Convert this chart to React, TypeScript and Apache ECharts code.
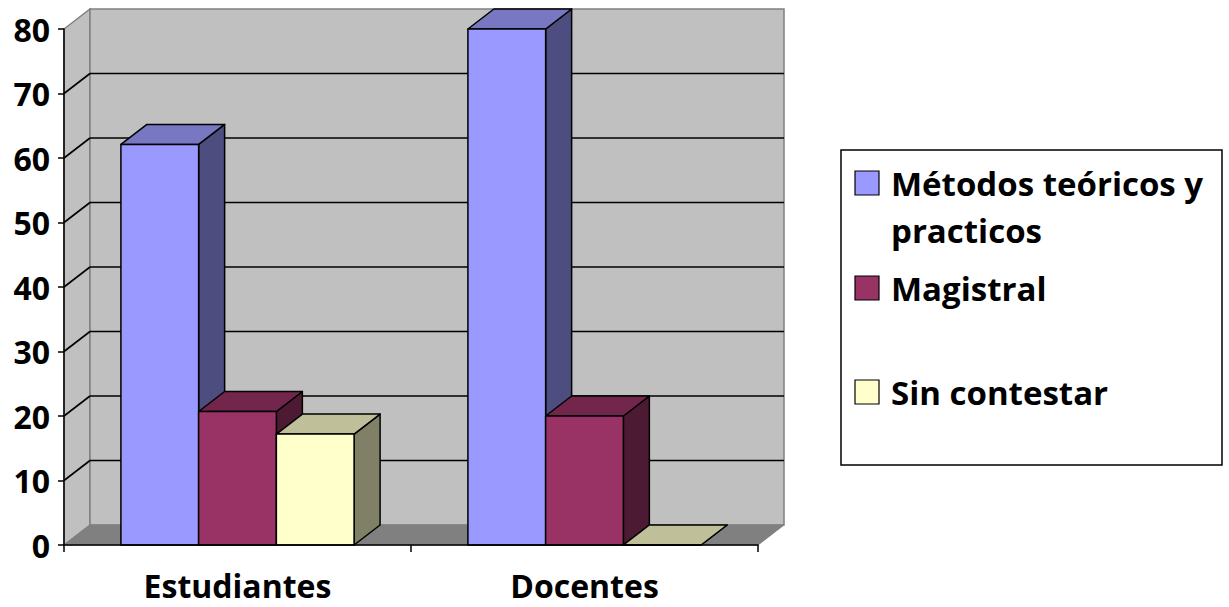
import React, { useEffect, useRef } from 'react';
import * as echarts from 'echarts';

const categories = ['Estudiantes', 'Docentes'];
const seriesNames = ['Métodos teóricos y practicos', 'Magistral', 'Sin contestar'];
const legendLabels = ['Métodos teóricos y\npracticos', 'Magistral', 'Sin contestar'];
const metodos = [62.1, 80];
const magistral = [20.7, 20];
const sinContestar = [17.2, 0];
const seriesValues = [metodos, magistral, sinContestar];
const gridValues = [10, 20, 30, 40, 50, 60, 70];

const colors = [
  { front: '#9999FF', top: '#7777C2', side: '#4D4D80' },
  { front: '#993366', top: '#73264C', side: '#4D1A33' },
  { front: '#FFFFCC', top: '#BFBF99', side: '#808066' },
];

const DX = 26;
const DY = -20;
const FONT = '"Open Sans", Lato, sans-serif';

export default function App() {
  const ref = useRef<HTMLDivElement>(null);
  useEffect(() => {
    if (!ref.current) return;
    const chart = echarts.init(ref.current, undefined, { renderer: 'svg' });

    const wallSeries: any = {
      type: 'custom',
      z: 1,
      silent: true,
      data: [[0, 0]],
      renderItem: (params: any, api: any) => {
        const cs = params.coordSys;
        const x0 = cs.x, x1 = cs.x + cs.width, yt = cs.y, yb = cs.y + cs.height;
        const children: any[] = [];
        children.push({
          type: 'polygon',
          shape: { points: [[x0, yb], [x0, yt], [x0 + DX, yt + DY], [x0 + DX, yb + DY]] },
          style: { fill: '#C0C0C0', stroke: '#808080', lineWidth: 1.5 },
        });
        children.push({
          type: 'polygon',
          shape: { points: [[x0 + DX, yt + DY], [x1 + DX, yt + DY], [x1 + DX, yb + DY], [x0 + DX, yb + DY]] },
          style: { fill: '#C0C0C0', stroke: '#808080', lineWidth: 1.5 },
        });
        children.push({
          type: 'polygon',
          shape: { points: [[x0, yb], [x1, yb], [x1 + DX, yb + DY], [x0 + DX, yb + DY]] },
          style: { fill: '#808080', stroke: '#808080', lineWidth: 1 },
        });
        gridValues.forEach((v) => {
          const y = api.coord([0, v])[1];
          children.push({
            type: 'line',
            shape: { x1: x0 + DX, y1: y + DY, x2: x1 + DX, y2: y + DY },
            style: { stroke: '#000', lineWidth: 1.6 },
          });
          children.push({
            type: 'line',
            shape: { x1: x0, y1: y, x2: x0 + DX, y2: y + DY },
            style: { stroke: '#000', lineWidth: 1.6 },
          });
        });
        return { type: 'group', children };
      },
    };

    const barSeries = seriesValues.map((vals, s) => ({
      type: 'custom',
      name: seriesNames[s],
      z: 2 + s,
      data: vals.map((v, i) => [i, v]),
      renderItem: (params: any, api: any) => {
        const i = api.value(0);
        const v = api.value(1);
        const base = api.coord([i, 0]);
        const top = api.coord([i, v]);
        const band = api.size([1, 0])[0];
        const bw = band * 0.224;
        const left = base[0] - 1.5 * bw + s * bw;
        const right = left + bw;
        const yb = base[1];
        const yt = top[1];
        const c = colors[s];
        const st = { stroke: '#000', lineWidth: 1.5, lineJoin: 'round' };
        return {
          type: 'group',
          children: [
            {
              type: 'polygon',
              shape: { points: [[right, yb], [right, yt], [right + DX, yt + DY], [right + DX, yb + DY]] },
              style: { fill: c.side, ...st },
            },
            {
              type: 'polygon',
              shape: { points: [[left, yt], [right, yt], [right + DX, yt + DY], [left + DX, yt + DY]] },
              style: { fill: c.top, ...st },
            },
            {
              type: 'polygon',
              shape: { points: [[left, yb], [right, yb], [right, yt], [left, yt]] },
              style: { fill: c.front, ...st },
            },
          ],
        };
      },
    }));

    const legendChildren: any[] = [
      {
        type: 'rect',
        shape: { x: 841, y: 150, width: 381, height: 315 },
        style: { fill: '#fff', stroke: '#000', lineWidth: 1.5 },
      },
    ];
    const legendY = [183, 288, 392];
    legendLabels.forEach((lab, s) => {
      legendChildren.push({
        type: 'rect',
        shape: { x: 855, y: legendY[s] - 12, width: 24, height: 24 },
        style: { fill: colors[s].front, stroke: '#000', lineWidth: 1.2 },
      });
      legendChildren.push({
        type: 'text',
        x: 891,
        y: legendY[s] - 23,
        style: {
          text: lab,
          fill: '#000',
          font: `bold 33px ${FONT}`,
          lineHeight: 47,
          textVerticalAlign: 'top',
        },
      });
    });

    chart.setOption({
      animation: false,
      backgroundColor: '#fff',
      grid: { left: 64, top: 29, width: 694, height: 516, containLabel: false },
      xAxis: {
        type: 'category',
        data: categories,
        z: 6,
        axisLine: { show: true, lineStyle: { color: '#000', width: 1.5 } },
        axisTick: { show: true, length: 7, lineStyle: { color: '#000', width: 1.5 } },
        axisLabel: { color: '#000', fontSize: 32, fontWeight: 'bold', fontFamily: FONT, margin: 23, lineHeight: 34 },
        splitLine: { show: false },
      },
      yAxis: {
        type: 'value',
        min: 0,
        max: 80,
        interval: 10,
        z: 6,
        axisLine: { show: true, lineStyle: { color: '#000', width: 1.5 } },
        axisTick: { show: true, length: 6, lineStyle: { color: '#000', width: 1.5 } },
        axisLabel: { color: '#000', fontSize: 32, fontWeight: 'bold', fontFamily: FONT, margin: 14 },
        splitLine: { show: false },
      },
      graphic: [{ type: 'group', children: legendChildren }],
      series: [wallSeries, ...barSeries],
    });
    return () => chart.dispose();
  }, []);
  return (
    <div
      ref={ref}
      style={{ position: 'fixed', left: 0, top: 0, width: 1229, height: 607, background: '#fff' }}
    />
  );
}
